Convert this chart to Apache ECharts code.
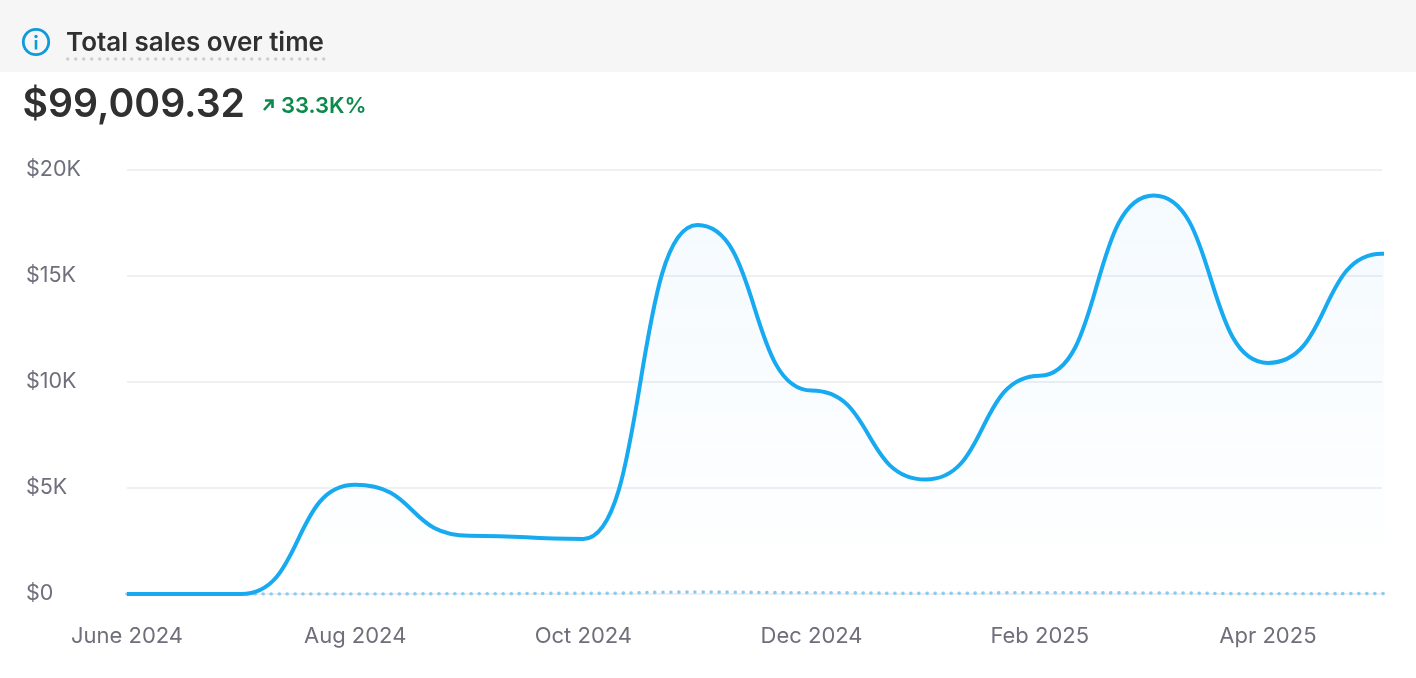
<!DOCTYPE html>
<html><head><meta charset="utf-8">
<style>html,body{margin:0;padding:0;background:#fff}#c{width:1416px;height:678px}</style>
<script src="https://cdn.jsdelivr.net/npm/echarts@6/dist/echarts.min.js"></script></head>
<body><div id="c"></div><script>
const categories=['June 2024','Jul 2024','Aug 2024','Sep 2024','Oct 2024','Nov 2024','Dec 2024','Jan 2025','Feb 2025','Mar 2025','Apr 2025','May 2025','June 2025'];
const currentSales=[0,0,5150,2750,2600,17400,9600,5400,10300,18800,10900,16050,16050];
const previousSales=[0,0,0,10,30,90,60,30,60,50,10,20,20];
const yTicks=['$0','$5K','$10K','$15K','$20K'];
const title='Total sales over time', total='$99,009.32', change='33.3K%';
const font='Inter';
const chart=echarts.init(document.getElementById('c'),null,{renderer:'canvas'});
chart.setOption({
 animation:false,
 textStyle:{fontFamily:font},
 grid:{left:127,right:34,top:170,bottom:84,containLabel:false},
 xAxis:{type:'category',boundaryGap:false,data:categories,max:11,
  axisLine:{show:false},axisTick:{show:false},splitLine:{show:false},
  axisLabel:{color:'#6f6f7c',fontSize:22,margin:31,fontFamily:font,interval:1,hideOverlap:false}},
 yAxis:{type:'value',min:0,max:20000,interval:5000,
  axisLine:{show:false},axisTick:{show:false},
  splitLine:{lineStyle:{color:'#e9ebee',width:1.5}},
  axisLabel:{color:'#6f6f7c',fontSize:21.5,margin:101,align:'left',fontFamily:font,
   formatter:(v,i)=>yTicks[i]}},
 graphic:[
  {type:'rect',z:-1,shape:{x:0,y:0,width:1416,height:72},style:{fill:'#f6f6f6'}},
  {type:'circle',shape:{cx:36,cy:42,r:12.7},style:{fill:'none',stroke:'#0f9ad9',lineWidth:2.8}},
  {type:'circle',shape:{cx:36,cy:36.5,r:1.7},style:{fill:'#0f9ad9'}},
  {type:'rect',shape:{x:34.7,y:40,width:2.6,height:9.5},style:{fill:'#0f9ad9'}},
  {type:'text',x:66,y:43,style:{text:title,fontFamily:font,fontSize:26,fontWeight:600,fill:'#303030',textVerticalAlign:'middle'}},
  {type:'line',shape:{x1:67.7,y1:59,x2:325,y2:59},style:{stroke:'#cfcfcf',lineWidth:3.4,lineDash:[0.1,7.9],lineCap:'round'}},
  {type:'text',x:22.5,y:105,style:{text:total,fontFamily:font,fontSize:39.2,fontWeight:600,fill:'#303030',textVerticalAlign:'middle'}},
  {type:'polyline',shape:{points:[[264,110],[272,101]]},style:{stroke:'#0c8a4b',lineWidth:2.6,fill:'none'}},
  {type:'polyline',shape:{points:[[265,100.5],[272.5,100.5],[272.5,108]]},style:{stroke:'#0c8a4b',lineWidth:2.6,fill:'none'}},
  {type:'text',x:281,y:106,style:{text:change,fontFamily:font,fontSize:22,fontWeight:600,fill:'#0c8a4b',textVerticalAlign:'middle'}}
 ],
 series:[
  {type:'line',name:'Previous',data:previousSales,smooth:0.55,smoothMonotone:'x',showSymbol:false,z:2,
   lineStyle:{color:'#8ec9ee',width:3.6,type:[0.1,7.9],cap:'round'}},
  {type:'line',name:'Current',data:currentSales,smooth:0.55,smoothMonotone:'x',showSymbol:false,z:3,
   lineStyle:{color:'#17aaf1',width:4,cap:'butt'},
   areaStyle:{color:new echarts.graphic.LinearGradient(0,0,0,1,[{offset:0,color:'rgba(23,145,241,0.065)'},{offset:1,color:'rgba(23,145,241,0)'}])}}
 ]
});
</script></body></html>
